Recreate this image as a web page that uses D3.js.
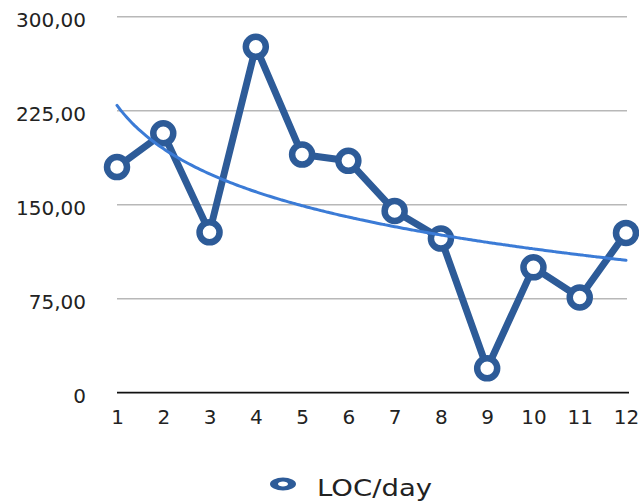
<!DOCTYPE html>
<html>
<head>
<meta charset="utf-8">
<script src="https://cdn.jsdelivr.net/npm/d3@7"></script>
<style>
  html, body { margin: 0; padding: 0; background: #fff; }
  svg { display: block; }
  text { font-family: "DejaVu Sans", sans-serif; fill: #222; }
</style>
</head>
<body>
<svg id="chart" width="639" height="502"></svg>
<script>
// Days and lines of code written per day
const days = [1, 2, 3, 4, 5, 6, 7, 8, 9, 10, 11, 12];
const locPerDay = [180, 207, 128, 276, 190, 185, 145, 123, 19.5, 100, 76, 127.5];
const yTicks = [0, 75, 150, 225, 300];
const yTickLabels = ["0", "75,00", "150,00", "225,00", "300,00"];
const seriesName = "LOC/day";

const lineColor = "#2d5b98";
const trendColor = "#3b7bd6";

const svg = d3.select("#chart");

const x = d3.scaleLinear().domain([1, 12]).range([117, 626]);
const y = d3.scaleLinear().domain([0, 300]).range([392.7, 16.7]);

// Horizontal gridlines (excluding the baseline)
svg.append("g")
  .selectAll("line")
  .data(yTicks.filter(d => d > 0))
  .join("line")
  .attr("x1", 117).attr("x2", 627)
  .attr("y1", d => y(d)).attr("y2", d => y(d))
  .attr("stroke", "#b8b8b8").attr("stroke-width", 1.5);

// Baseline
svg.append("line")
  .attr("x1", 117).attr("x2", 629)
  .attr("y1", y(0)).attr("y2", y(0))
  .attr("stroke", "#111").attr("stroke-width", 1.8);

// Y axis labels
const yAxis = d3.axisLeft(y)
  .tickValues(yTicks)
  .tickFormat((d, i) => yTickLabels[i])
  .tickSize(0)
  .tickPadding(0);
const gy = svg.append("g").attr("transform", "translate(86,3)").call(yAxis);
gy.select(".domain").remove();
gy.selectAll("text").style("font-size", "20px").attr("fill", "#2a2a2a")
  .style("font-family", "'DejaVu Sans', sans-serif");

// X axis labels
const xAxis = d3.axisBottom(x)
  .tickValues(days)
  .tickFormat(d3.format("d"))
  .tickSize(0)
  .tickPadding(0);
const gx = svg.append("g").attr("transform", "translate(0,410)").call(xAxis);
gx.select(".domain").remove();
gx.selectAll("text").style("font-size", "20px").attr("fill", "#2a2a2a")
  .style("font-family", "'DejaVu Sans', sans-serif")
  .attr("dy", "0.71em");

// Data line
const line = d3.line()
  .x((d, i) => x(days[i]))
  .y(d => y(d));

svg.append("path")
  .datum(locPerDay)
  .attr("d", line)
  .attr("fill", "none")
  .attr("stroke", lineColor)
  .attr("stroke-width", 7)
  .attr("stroke-linejoin", "round");

// Markers
svg.append("g")
  .selectAll("circle")
  .data(locPerDay)
  .join("circle")
  .attr("cx", (d, i) => x(days[i]))
  .attr("cy", d => y(d))
  .attr("r", 10)
  .attr("fill", "#fff")
  .attr("stroke", lineColor)
  .attr("stroke-width", 6.5);

// Logarithmic trendline: least squares fit of y = a + b ln(x)
const lx = days.map(Math.log);
const mx = d3.mean(lx), my = d3.mean(locPerDay);
const sxy = d3.sum(lx, (v, i) => (v - mx) * (locPerDay[i] - my));
const sxx = d3.sum(lx, v => (v - mx) * (v - mx));
const b = sxy / sxx, a = my - b * mx;
const trendPts = d3.range(1, 12.001, 0.05).map(t => [t, a + b * Math.log(t)]);

svg.append("path")
  .datum(trendPts)
  .attr("d", d3.line().x(d => x(d[0])).y(d => y(d[1])).curve(d3.curveMonotoneX))
  .attr("fill", "none")
  .attr("stroke", trendColor)
  .attr("stroke-width", 3)
  .attr("stroke-linecap", "round");

// Legend: series symbol (drawn wide) and name
const legend = svg.append("g");
legend.append("circle")
  .attr("transform", "translate(283,484) scale(2,1)")
  .attr("r", 4.5)
  .attr("fill", "#fff")
  .attr("stroke", lineColor)
  .attr("stroke-width", 4);
legend.append("text")
  .attr("x", 317).attr("y", 496)
  .style("font-size", "23px")
  .attr("textLength", 115)
  .attr("lengthAdjust", "spacingAndGlyphs")
  .text(seriesName);
</script>
</body>
</html>
